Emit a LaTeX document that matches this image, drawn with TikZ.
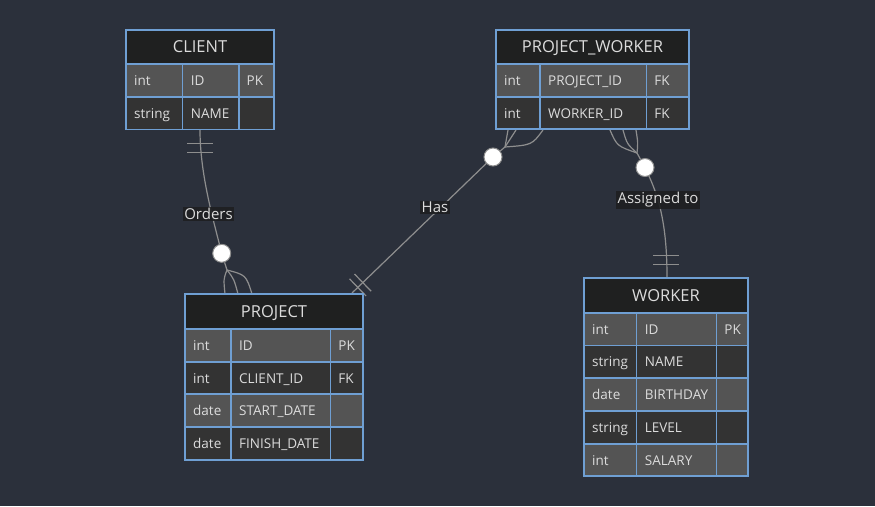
\documentclass[tikz,border=0pt]{standalone}
\usepackage{fontspec}
\setmainfont{Open Sans}
\newfontfamily\ercell{Open Sans}
\newfontfamily\erhdr{Open Sans}
\definecolor{bg}{HTML}{2B303B}
\definecolor{hdr}{HTML}{1F2020}
\definecolor{rowa}{HTML}{545454}
\definecolor{rowb}{HTML}{333333}
\definecolor{bord}{HTML}{6F9FD3}
\definecolor{txt}{HTML}{DCDCDC}
\definecolor{edge}{HTML}{8E8E8E}
\definecolor{lblbg}{HTML}{1E1F21}
\newcommand\ercols[4]{\def\ERa{#1}\def\ERb{#2}\def\ERc{#3}\def\ERd{#4}}
\newcommand\erhead[3]{%
  \filldraw[fill=hdr,draw=bord,cellline] (\ERa,#1) rectangle (\ERd,#2);
  \node[hdrtxt] at ({(\ERa+\ERd)/2},{(#1+#2)/2+5.8}) {#3};}
\newcommand\errow[6]{%
  \filldraw[fill=#3,draw=bord,cellline] (\ERa,#1) rectangle (\ERb,#2);
  \filldraw[fill=#3,draw=bord,cellline] (\ERb,#1) rectangle (\ERc,#2);
  \filldraw[fill=#3,draw=bord,cellline] (\ERc,#1) rectangle (\ERd,#2);
  \node[celltxt] at (\ERa+8,{(#1+#2)/2+5}) {#4};
  \node[celltxt] at (\ERb+8,{(#1+#2)/2+5}) {#5};
  \node[celltxt] at (\ERc+7.5,{(#1+#2)/2+5}) {#6};}
\begin{document}
\begin{tikzpicture}[x=1pt,y=-1pt,
  cellline/.style={line width=1.2pt},
  hdrtxt/.style={anchor=base,inner sep=0,text=txt,font=\erhdr\fontsize{16.5}{18}\selectfont},
  celltxt/.style={anchor=base west,inner sep=0,text=txt,font=\ercell\fontsize{13.5}{16}\selectfont},
  tbl/.style={draw=none,inner sep=0,outer sep=0},
  conn/.style={draw=edge,line width=1.2pt},
  zero/.style={circle,draw=edge,fill=white,line width=1pt,minimum size=18pt,inner sep=0},
  lbl/.style={fill=lblbg,fill opacity=0.9,text opacity=1,text=txt,inner sep=1.5pt,font=\ercell\fontsize{15}{17}\selectfont}]
\useasboundingbox (0,0) rectangle (875,506);
\fill[bg] (0,0) rectangle (875,506);

% table anchor nodes
\node[tbl,minimum width=148pt,minimum height=99.3pt] (client) at (200,79.7) {};
\node[tbl,minimum width=193pt,minimum height=99pt] (pw) at (592.5,79.5) {};
\node[tbl,minimum width=178pt,minimum height=166pt] (project) at (274,377) {};
\node[tbl,minimum width=164pt,minimum height=198pt] (worker) at (666,377) {};

% connector points
\coordinate (oA) at (200,130);
\coordinate (oB) at (227,270);
\coordinate (oP1) at (225,294);
\coordinate (oP2) at (238,294);
\coordinate (oP3) at (252,294);
\coordinate (hA) at (352,293);
\coordinate (hB) at (505,147);
\coordinate (hP1) at (508,130);
\coordinate (hP2) at (516,130);
\coordinate (hP3) at (543,130);
\coordinate (aB) at (637,153);
\coordinate (aP1) at (610,130);
\coordinate (aP2) at (623,130);
\coordinate (aP3) at (636,130);
\coordinate (aW) at (667,277);

% Orders
\node[zero] (oZ) at (221.7,253.3) {};
\draw[conn] (oA) .. controls (200,172) and (212,215) .. (oZ);
\draw[conn] (oZ) -- (oB);
\draw[conn] (oB) .. controls (223.5,279) .. (oP1);
\draw[conn] (oB) .. controls (234,279) .. (oP2);
\draw[conn] (oB) .. controls (246,275) .. (oP3);
\draw[conn] (187,143.3) -- (213,143.3) (187,152.7) -- (213,152.7);

% Has
\node[zero] (hZ) at (493,157) {};
\draw[conn] (hA) -- (hZ);
\draw[conn] (hZ) -- (hB);
\draw[conn] (hB) .. controls (506,139) .. (hP1);
\draw[conn] (hB) .. controls (510,138) .. (hP2);
\draw[conn] (hB) .. controls (532,145) .. (hP3);
\draw[conn] (349.5,278.8) -- (366.1,296.0) (354.5,274.0) -- (371.1,291.2);

% Assigned to
\node[zero] (aZ) at (645,167.5) {};
\draw[conn] (aB) -- (aZ);
\draw[conn] (aB) .. controls (617,146) .. (aP1);
\draw[conn] (aB) .. controls (627,144) .. (aP2);
\draw[conn] (aB) .. controls (638,143) .. (aP3);
\draw[conn] (aZ) .. controls (660,200) and (667,228) .. (aW);
\draw[conn] (653,255.7) -- (679,255.7) (653,264.3) -- (679,264.3);

% labels
\node[lbl] (lo) at (208.5,214) {Orders};
\node[lbl] (lh) at (435,207.5) {Has};
\node[lbl] (la) at (658,199.5) {Assigned to};

% CLIENT
\ercols{126}{182.7}{239}{274}
\erhead{30}{64}{CLIENT}
\errow{64}{97}{rowa}{int}{ID}{PK}
\errow{97}{129.3}{rowb}{string}{NAME}{}

% PROJECT_WORKER
\ercols{496}{540}{646.7}{689}
\erhead{30}{64}{PROJECT\_WORKER}
\errow{64}{97}{rowa}{int}{PROJECT\_ID}{FK}
\errow{97}{129}{rowb}{int}{WORKER\_ID}{FK}

% PROJECT
\ercols{185}{231}{330.7}{363}
\erhead{294}{329}{PROJECT}
\errow{329}{362}{rowa}{int}{ID}{PK}
\errow{362}{394}{rowb}{int}{CLIENT\_ID}{FK}
\errow{394}{427}{rowa}{date}{START\_DATE}{}
\errow{427}{460}{rowb}{date}{FINISH\_DATE}{}

% WORKER
\ercols{584}{636.7}{716.7}{748}
\erhead{278}{313}{WORKER}
\errow{313}{345.7}{rowa}{int}{ID}{PK}
\errow{345.7}{378}{rowb}{string}{NAME}{}
\errow{378}{411}{rowa}{date}{BIRTHDAY}{}
\errow{411}{444}{rowb}{string}{LEVEL}{}
\errow{444}{476}{rowa}{int}{SALARY}{}
\end{tikzpicture}
\end{document}
